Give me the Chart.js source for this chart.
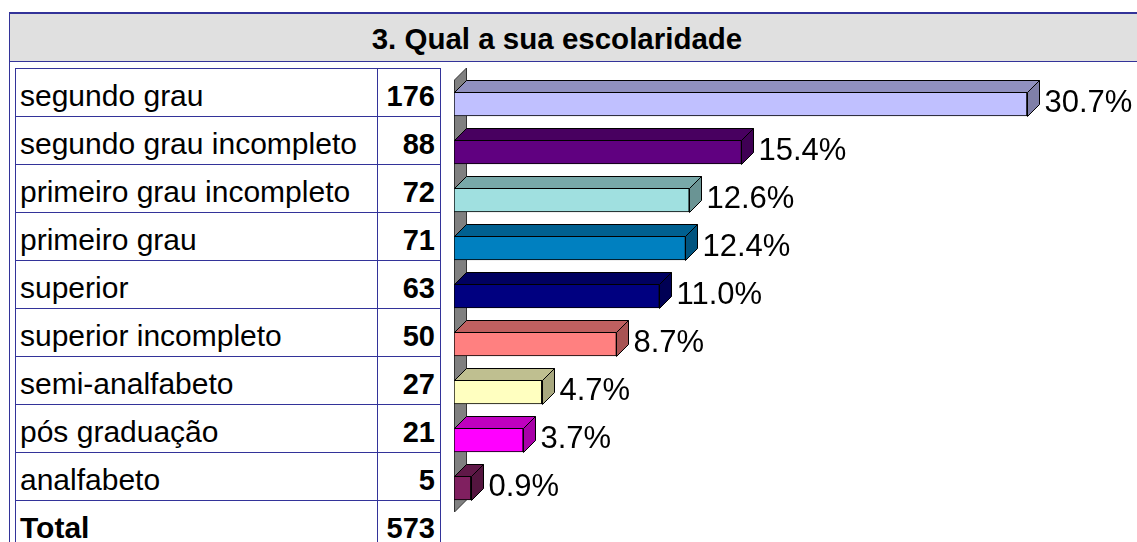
<!DOCTYPE html>
<html><head><meta charset="utf-8">
<script src="https://cdn.jsdelivr.net/npm/chart.js@4"></script>
<style>
html,body{margin:0;padding:0;background:#fff;overflow:hidden;width:1137px;height:542px;}
#wrap{position:relative;width:1137px;height:542px;overflow:hidden;font-family:"Liberation Sans",Arial,sans-serif;color:#000;}
.abs{position:absolute;}
.hl{position:absolute;height:1px;background:#333399;}
.vl{position:absolute;width:1px;background:#333399;}
.lbl{position:absolute;font-size:30px;line-height:48px;white-space:nowrap;}
.num{position:absolute;font-size:29px;line-height:48px;font-weight:bold;text-align:right;white-space:nowrap;}
</style></head><body><div id="wrap">
<div class="abs" id="titleBand" style="left:9px;top:12px;width:1300px;height:47px;background:#e0e0e0;border-top:2px solid #333399;border-left:1px solid #333399;border-bottom:1px solid #333399;"></div>
<div class="abs" id="title" style="left:357px;width:400px;top:15px;height:47px;line-height:47px;text-align:center;font-size:29.5px;font-weight:bold;white-space:nowrap;"></div>
<canvas id="c" width="696" height="480" style="position:absolute;left:441px;top:62px;width:696px;height:480px;"></canvas>
</div>
<script>
const title = '3. Qual a sua escolaridade';
const categories = ['segundo grau','segundo grau incompleto','primeiro grau incompleto','primeiro grau','superior','superior incompleto','semi-analfabeto','pós graduação','analfabeto'];
const counts = [176,88,72,71,63,50,27,21,5];
const percents = [30.7,15.4,12.6,12.4,11.0,8.7,4.7,3.7,0.9];
const totalLabel = 'Total';
const totalCount = 573;

const frontColors = ['#C0C0FF','#600080','#A0E0E0','#0080C0','#000080','#FF8080','#FFFFC0','#FF00FF','#802060'];
function shade(hex,f){const n=parseInt(hex.slice(1),16);const r=Math.round(((n>>16)&255)*f),g=Math.round(((n>>8)&255)*f),b=Math.round((n&255)*f);return 'rgb('+r+','+g+','+b+')';}
const topColors = frontColors.map(c=>shade(c,0.75));
const sideColors = frontColors.map(c=>shade(c,0.66));

const wrap = document.getElementById('wrap');
document.getElementById('title').textContent = title;

const T_LEFT=15, T_TOP=68, ROW=48, COL=377, T_RIGHT=440;
function add(cls, style, text){const d=document.createElement('div');d.className=cls;d.setAttribute('style',style);if(text!==undefined)d.textContent=text;wrap.appendChild(d);return d;}
add('vl','left:9px;top:12px;height:540px;');
const rows = categories.map((c,i)=>[c,String(counts[i]),false]).concat([[totalLabel,String(totalCount),true]]);
for(let k=0;k<=rows.length;k++){add('hl','left:'+T_LEFT+'px;top:'+(T_TOP+ROW*k)+'px;width:'+(T_RIGHT-T_LEFT+1)+'px;');}
[T_LEFT,COL,T_RIGHT].forEach(x=>add('vl','left:'+x+'px;top:'+T_TOP+'px;height:'+(542-T_TOP)+'px;'));
rows.forEach((r,k)=>{
  const top=T_TOP+ROW*k+4;
  add('lbl','left:20px;top:'+top+'px;'+(r[2]?'font-weight:bold;':''), r[0]);
  add('num','left:'+(COL+2)+'px;width:'+(T_RIGHT-COL-7)+'px;top:'+top+'px;', r[1]);
});

const D=12;
function poly(ctx,pts,fill){ctx.beginPath();ctx.moveTo(pts[0][0],pts[0][1]);for(let i=1;i<pts.length;i++)ctx.lineTo(pts[i][0],pts[i][1]);ctx.closePath();ctx.fillStyle=fill;ctx.fill();ctx.strokeStyle='#000';ctx.lineWidth=1;ctx.stroke();}
const bar3d={id:'bar3d',
  beforeDatasetsDraw(c){
    const ctx=c.ctx,a=c.chartArea,x0=Math.round(c.scales.x.getPixelForValue(0))+0.5;
    ctx.save();
    ctx.beginPath();ctx.moveTo(x0,a.top);ctx.lineTo(x0+D,a.top-D);ctx.lineTo(x0+D,a.bottom-D);ctx.lineTo(x0,a.bottom);ctx.closePath();
    ctx.fillStyle='#808080';ctx.fill();ctx.strokeStyle='#333';ctx.lineWidth=1;ctx.stroke();
    ctx.restore();
  },
  afterDatasetsDraw(c){
    const ctx=c.ctx,meta=c.getDatasetMeta(0);
    ctx.save();
    meta.data.forEach((b,i)=>{
      const x1=Math.round(b.base)+0.5,x2=Math.round(b.x)+0.5,yt=Math.round(b.y-b.height/2)+0.5,yb=Math.round(b.y+b.height/2)+0.5;
      poly(ctx,[[x1,yt],[x1+D,yt-D],[x2+D,yt-D],[x2,yt]],topColors[i]);
      poly(ctx,[[x2,yt],[x2+D,yt-D],[x2+D,yb-D],[x2,yb]],sideColors[i]);
      ctx.font='31px "Liberation Sans", Arial, sans-serif';ctx.fillStyle='#000';ctx.textBaseline='alphabetic';ctx.textAlign='left';
      ctx.fillText(percents[i].toFixed(1)+'%',x2+D+5,yb-5);
    });
    ctx.restore();
  }};

new Chart(document.getElementById('c').getContext('2d'),{
  type:'bar',
  data:{labels:categories,datasets:[{data:percents,backgroundColor:frontColors,borderColor:'#000',borderWidth:1,barThickness:24,borderSkipped:false}]},
  options:{indexAxis:'y',responsive:false,animation:false,events:[],
    layout:{padding:{left:13,top:18,bottom:30,right:0}},
    scales:{x:{display:false,min:0,max:36.6},y:{display:false}},
    plugins:{legend:{display:false},tooltip:{enabled:false}}},
  plugins:[bar3d]
});
</script></body></html>
